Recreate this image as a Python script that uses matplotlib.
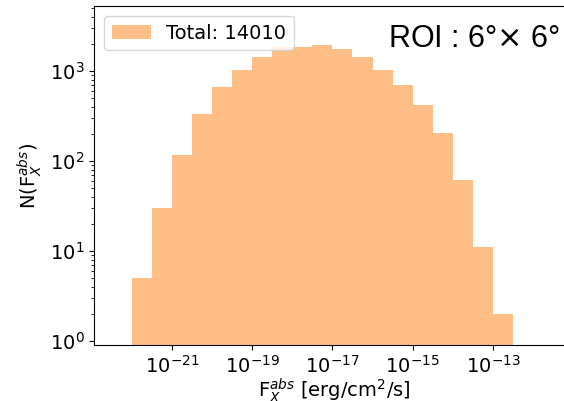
import numpy as np
import matplotlib
matplotlib.use("Agg")
import matplotlib.pyplot as plt

# histogram of absorbed flux, half-decade bins
bin_edges = 10.0 ** np.arange(-22.0, -12.49, 0.5)
counts = [5, 30, 118, 333, 664, 1020, 1420, 1860, 1840, 1930,
          1770, 1430, 1035, 693, 416, 205, 62, 11, 2]
legend_label = "Total: 14010"
roi_text = "ROI : 6°$\\times$ 6°"

fig = plt.figure(figsize=(5.64, 4.01), dpi=100)
ax = fig.add_axes([0.167, 0.14, 0.85, 0.845])

centers = np.sqrt(bin_edges[:-1] * bin_edges[1:])
ax.hist(centers, bins=bin_edges, weights=counts, color="tab:orange",
        alpha=0.5, label=legend_label)

ax.set_xscale("log")
ax.set_yscale("log")
ax.set_xlim(10 ** -22.935, 10 ** -10.99)
ax.set_ylim(0.91, 5250)
ax.set_xticks([1e-21, 1e-19, 1e-17, 1e-15, 1e-13])
ax.spines["right"].set_visible(False)

ax.tick_params(labelsize=14)
ax.set_xlabel(r"F$_X^{abs}$ [erg/cm$^2$/s]", fontsize=14, labelpad=0)
ax.set_ylabel(r"N(F$_X^{abs}$)", fontsize=14)

ax.legend(loc="upper left", fontsize=14)
ax.text(0.972, 0.903, roi_text, transform=ax.transAxes, ha="right", va="center",
        fontsize=22, family="Liberation Sans")

fig.savefig("out.png", dpi=100)
